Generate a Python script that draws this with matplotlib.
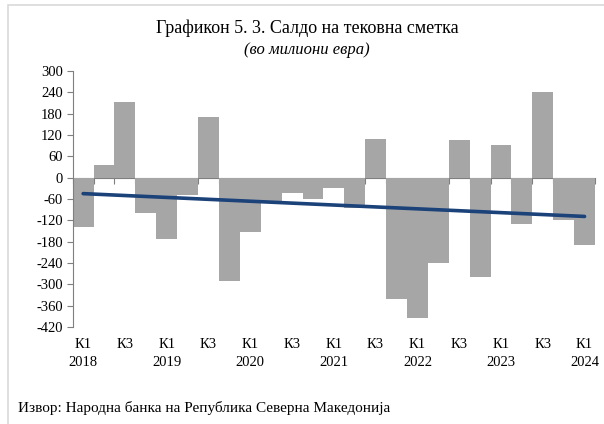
import numpy as np
import matplotlib
matplotlib.use("Agg")
import matplotlib.pyplot as plt
from matplotlib.patches import Rectangle

plt.rcParams['font.family'] = ['Liberation Serif', 'DejaVu Serif']

quarters = ["К1", "К2", "К3", "К4"]
years = list(range(2018, 2025))
values = [-138, 37, 212, -100, -172, -50, 172, -291, -152, -72, -42, -61,
          -30, -86, 109, -342, -396, -241, 105, -280, 92, -130, 240, -119, -189]
yticks = [300, 240, 180, 120, 60, 0, -60, -120, -180, -240, -300, -360, -420]

title = "Графикон 5. 3. Салдо на тековна сметка"
subtitle = "(во милиони евра)"
source = "Извор: Народна банка на Република Северна Македонија"

n = len(values)
x = np.arange(n)
labels = []
for i in range(n):
    q = i % 4
    y = years[i // 4]
    if q == 0:
        labels.append(f"{quarters[0]}\n{y}")
    elif q == 2:
        labels.append(quarters[2])
    else:
        labels.append("")

fig = plt.figure(figsize=(6.04, 4.24), dpi=100)
fig.patches.append(Rectangle((8/604, -0.05), 1.2, 1 - 5/424 + 0.05, transform=fig.transFigure,
                             fill=False, edgecolor='#d9d9d9', linewidth=1.2))
ax = fig.add_axes([72.7/604, 1-327/424, (595-72.7)/604, (327-71)/424])

ax.bar(x, values, width=1.0, color='#a6a6a6', edgecolor='none', zorder=2)

# trend line (linear fit)
coef = np.polyfit(x, values, 1)
ax.plot(x, np.polyval(coef, x), color='#1b4279', linewidth=2.6, solid_capstyle='round', zorder=3)

ax.set_xlim(-0.5, n - 0.5)
ax.set_ylim(-420, 300)
ax.set_yticks(yticks)
ax.set_yticklabels([str(v) for v in yticks])
ax.tick_params(axis='y', direction='out', length=4, color='#7f7f7f', labelsize=10.5, pad=3, width=0.8)

for s in ['top', 'right']:
    ax.spines[s].set_visible(False)
ax.spines['left'].set_color('#7f7f7f')
ax.spines['left'].set_linewidth(0.8)
ax.spines['bottom'].set_position(('data', 0))
ax.spines['bottom'].set_color('#7f7f7f')
ax.spines['bottom'].set_linewidth(0.8)
ax.spines['bottom'].set_zorder(1)
ax.set_xticks(np.arange(n + 1) - 0.5)
ax.set_xticklabels([])
ax.tick_params(axis='x', direction='out', length=4, color='#7f7f7f', width=0.8)

sec = ax.secondary_xaxis(0)
sec.set_xticks(x)
sec.set_xticklabels(labels, linespacing=1.5)
sec.tick_params(length=0, labelsize=10.5, pad=8)
sec.spines['bottom'].set_visible(False)

fig.text(307/604, 1-28/424, title, ha='center', va='center', fontsize=13)
fig.text(307/604, 1-50/424, subtitle, ha='center', va='center', fontsize=12, style='italic')
fig.text(18/604, 1-408/424, source, ha='left', va='center', fontsize=11)

fig.savefig("out.png", dpi=100)
